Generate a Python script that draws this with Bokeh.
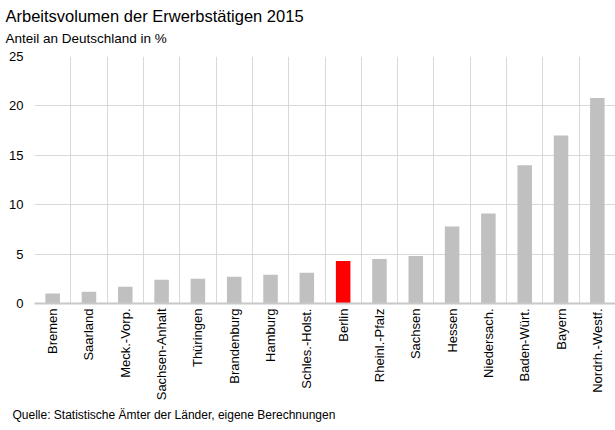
import math
from bokeh.plotting import figure
from bokeh.models import FactorRange, Range1d, FixedTicker, Title, ColumnDataSource
from bokeh.embed import file_html
from bokeh.resources import INLINE

# ---- data ----
laender = ["Bremen", "Saarland", "Meck.-Vorp.", "Sachsen-Anhalt", "Thüringen",
           "Brandenburg", "Hamburg", "Schles.-Holst.", "Berlin", "Rheinl.-Pfalz",
           "Sachsen", "Hessen", "Niedersach.", "Baden-Würt.", "Bayern", "Nordrh.-Westf."]
anteil = [1.0, 1.2, 1.7, 2.4, 2.5, 2.7, 2.9, 3.1, 4.3, 4.5, 4.8, 7.8, 9.1, 14.0, 17.0, 20.8]
y_ticks = [0, 5, 10, 15, 20, 25]
title_text = "Arbeitsvolumen  der Erwerbstätigen 2015"
subtitle_text = "Anteil an Deutschland in %"
source_text = "Quelle: Statistische Ämter der Länder, eigene Berechnungen"
highlight = "Berlin"

# ---- styles ----
FONT = "Liberation Sans"
BAR = "#c0c0c0"
RED = "#ff0000"
GRID = "#d9d9d9"

farben = [RED if l == highlight else BAR for l in laender]
src = ColumnDataSource(dict(land=laender, wert=anteil, farbe=farben))

p = figure(width=615, height=430, title=None,
           x_range=FactorRange(factors=laender, range_padding=0),
           y_range=Range1d(y_ticks[0], y_ticks[-1]),
           output_backend="svg", toolbar_location=None,
           min_border_left=34, min_border_right=0,
           min_border_top=56, min_border_bottom=127)
p.outline_line_color = None
p.background_fill_color = "white"
p.border_fill_color = "white"

p.vbar(x="land", top="wert", width=0.4, fill_color="farbe", line_color=None, source=src)

# y axis
p.yaxis.ticker = FixedTicker(ticks=y_ticks)
p.yaxis.axis_line_color = None
p.yaxis.major_tick_line_color = None
p.yaxis.minor_tick_line_color = None
p.yaxis.major_tick_out = 0
p.yaxis.major_label_standoff = 11
p.yaxis.major_label_text_font = FONT
p.yaxis.major_label_text_font_size = "13px"
p.yaxis.major_label_text_color = "#000000"

# x axis
p.xaxis.axis_line_color = "#c8c8c8"
p.xaxis.axis_line_width = 2
p.xaxis.major_tick_line_color = None
p.xaxis.minor_tick_line_color = None
p.xaxis.major_tick_out = 0
p.xaxis.major_label_orientation = math.pi / 2
p.xaxis.major_label_standoff = 5
p.xaxis.major_label_text_font = FONT
p.xaxis.major_label_text_font_size = "13px"
p.xaxis.major_label_text_color = "#000000"

# grids
p.ygrid.ticker = FixedTicker(ticks=y_ticks)
p.ygrid.grid_line_color = GRID
p.xgrid.ticker = FixedTicker(ticks=list(range(len(laender) + 1)))
p.xgrid.grid_line_color = GRID

# texts
p.add_layout(Title(text=subtitle_text, align="left", offset=-29, standoff=21,
                   text_font=FONT, text_font_size="13.5px", text_font_style="normal",
                   text_color="#000000"), "above")
p.add_layout(Title(text=title_text, align="left", offset=-29, standoff=-12,
                   text_font=FONT, text_font_size="16.5px", text_font_style="normal",
                   text_color="#000000"), "above")
p.add_layout(Title(text=source_text, align="left", offset=-22, standoff=4,
                   text_font=FONT, text_font_size="12px", text_font_style="normal",
                   text_color="#000000"), "below")

open("out.html", "w").write(file_html(p, INLINE))
